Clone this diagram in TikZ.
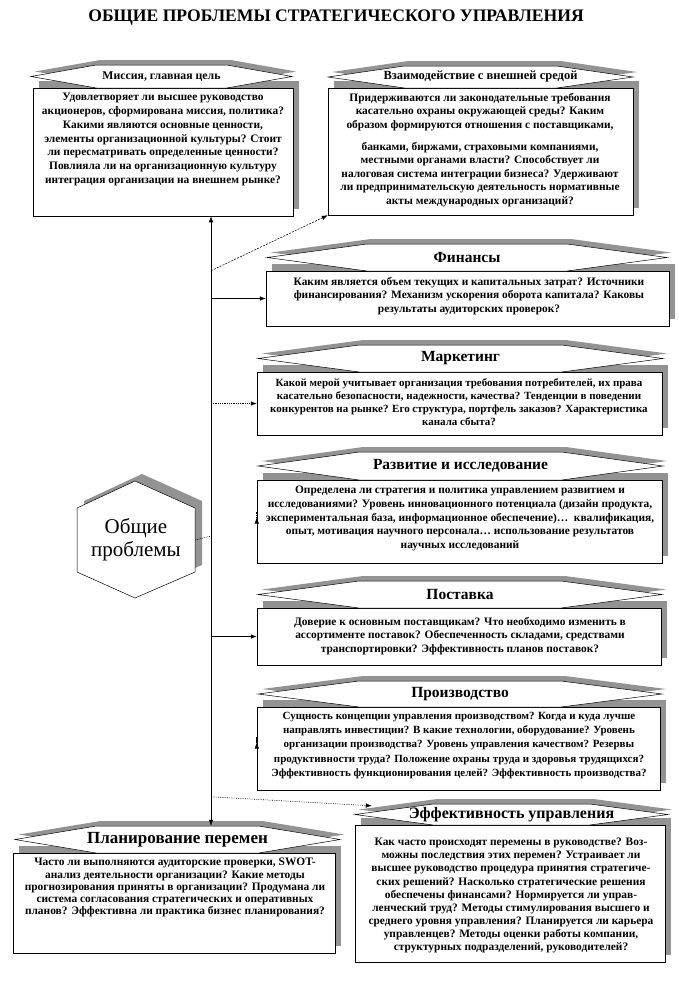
\documentclass[tikz,border=0pt]{standalone}
\usepackage{fontspec}
\setmainfont{Liberation Serif}
\usetikzlibrary{arrows.meta,calc}
\tikzset{
  sh/.style={fill=gray!85,draw=none},
  bline/.style={draw=black,line width=0.5pt,fill=white},
  qbox/.style={draw=black,line width=0.5pt,fill=white,rectangle,inner sep=0pt},
  body/.style={font=\fontsize{11.4}{#1}\selectfont\bfseries,align=center,inner sep=0pt,anchor=north},
  body/.default=13.4,
  bodyn/.style={font=\fontsize{11}{#1}\selectfont\bfseries,align=center,inner sep=0pt,anchor=north},
  tsz/.style={font=\fontsize{#1}{#1}\selectfont\bfseries},
  arr/.style={-{Latex[length=6pt,width=4.5pt]},line width=0.55pt},
  dots/.style={dash pattern=on 0.8pt off 1pt},
  dashs/.style={dash pattern=on 2pt off 1.2pt},
}
% banner: x0 x1 ytop ybot name style title
\newcommand\bnr[7]{%
  \pgfmathsetmacro\bs{0.25*(#2-#1)}%
  \pgfmathsetmacro\bm{0.5*(#3+#4)}%
  \fill[sh,shift={(4,-5)}] (#1,\bm) -- ({#1+\bs},#3) -- ({#2-\bs},#3) -- (#2,\bm) -- ({#2-\bs},#4) -- ({#1+\bs},#4) -- cycle;
  \filldraw[bline] (#1,\bm) -- ({#1+\bs},#3) -- ({#2-\bs},#3) -- (#2,\bm) -- ({#2-\bs},#4) -- ({#1+\bs},#4) -- cycle;
  \node[#6,inner sep=0pt,minimum width={#2-#1},minimum height={#4-#3}] (#5) at ({(#1+#2)/2},\bm) {#7};
}
% box: name x0 x1 ytop ybot
\newcommand\qb[5]{%
  \fill[sh] ({#2+6},{#4-7}) rectangle ({#3+6},{#5-7});
  \node[qbox,minimum width={#3-#2},minimum height={#5-#4}] (#1) at ({(#2+#3)/2},{(#4+#5)/2}) {};
}
\begin{document}
\begin{tikzpicture}[x=1pt,y=-1pt]
\useasboundingbox (0,0) rectangle (678,988);
\fill[white] (0,0) rectangle (678,988);

\node[font=\fontsize{17.6}{19}\selectfont\bfseries,inner sep=0pt] (title) at (336,18) {ОБЩИЕ ПРОБЛЕМЫ СТРАТЕГИЧЕСКОГО УПРАВЛЕНИЯ};

% 1 Mission
\qb{mbox}{33}{293}{88}{216}
\bnr{31}{292}{65}{88}{mban}{tsz=11.8}{Миссия, главная цель}
\node[body=13.8] (mtxt) at (163,93) {Удовлетворяет ли высшее руководство\\
акционеров, сформирована миссия, политика?\\
Какими являются основные ценности,\\
элементы организационной культуры? Стоит\\
ли пересматривать определенные ценности?\\
Повлияла ли на организационную культуру\\
интеграция организации на внешнем рынке?};

% 2 Interaction
\qb{ibox}{328}{633}{88}{215}
\bnr{328}{633}{66}{88}{iban}{tsz=12.5}{Взаимодействие с внешней средой}
\node[body=13.6] (itxt) at (480,93) {Придерживаются ли законодательные требования\\
касательно охраны окружающей среды? Каким\\
образом формируются отношения с поставщиками,\\[8pt]
банками, биржами, страховыми компаниями,\\
местными органами власти? Способствует ли\\
налоговая система интеграции бизнеса? Удерживают\\
ли предпринимательскую деятельность нормативные\\
акты международных организаций?};

% 3 Finance
\qb{fbox}{266}{669}{271}{326}
\bnr{267}{667}{244}{271}{fban}{tsz=15.5}{Финансы}
\node[body=13.5] (ftxt) at (469,277) {Каким является объем текущих и капитальных затрат? Источники\\
финансирования? Механизм ускорения оборота капитала? Каковы\\
результаты аудиторских проверок?};

% 4 Marketing
\qb{kbox}{257}{662}{372}{435}
\bnr{258}{663}{345}{372}{kban}{tsz=15.5}{Маркетинг}
\node[bodyn=13.3] (ktxt) at (459,378) {Какой мерой учитывает организация требования потребителей, их права\\
касательно безопасности, надежности, качества? Тенденции в поведении\\
конкурентов на рынке? Его структура, портфель заказов? Характеристика\\
канала сбыта?};

% 5 R&D
\qb{rbox}{257}{662}{480}{563}
\bnr{258}{663}{452}{480}{rban}{tsz=15.5}{Развитие и исследование}
\node[body=13.7] (rtxt) at (460,486) {Определена ли стратегия и политика управлением развитием и\\
исследованиями? Уровень инновационного потенциала (дизайн продукта,\\
экспериментальная база, информационное обеспечение)…\ \ квалификация,\\
опыт, мотивация научного персонала… использование результатов\\
научных исследований};

% 6 Supply
\qb{sbox}{257}{661}{608}{665}
\bnr{258}{662}{581}{608}{sban}{tsz=15.5}{Поставка}
\node[body=13.5] (stxt) at (460,617) {Доверие к основным поставщикам? Что необходимо изменить в\\
ассортименте поставок? Обеспеченность складами, средствами\\
транспортировки? Эффективность планов поставок?};

% 7 Production
\qb{pbox}{257}{660}{707}{790}
\bnr{258}{662}{681}{707}{pban}{tsz=15.5}{Производство}
\node[bodyn=14.2] (ptxt) at (459,712) {Сущность концепции управления производством? Когда и куда лучше\\
направлять инвестиции? В какие технологии, оборудование? Уровень\\
организации производства? Уровень управления качеством? Резервы\\
продуктивности труда? Положение охраны труда и здоровья трудящихся?\\
Эффективность функционирования целей? Эффективность производства?};

% 8 Effectiveness
\qb{ebox}{355}{665}{825}{962}
\bnr{355}{668}{804}{825}{eban}{tsz=16}{Эффективность управления}
\node[body=13.1] (etxt) at (511,838) {Как часто происходят перемены в руководстве? Воз-\\
можны последствия этих перемен? Устраивает ли\\
высшее руководство процедура принятия стратегиче-\\
ских решений? Насколько стратегические решения\\
обеспечены финансами? Нормируется ли управ-\\
ленческий труд? Методы стимулирования высшего и\\
среднего уровня управления? Планируется ли карьера\\
управленцев? Методы оценки работы компании,\\
структурных подразделений, руководителей?};

% 9 Planning
\qb{lbox}{13}{335}{853}{953}
\bnr{15}{340}{826}{853}{lban}{tsz=17}{Планирование перемен}
\node[body=12.3] (ltxt) at (175,858) {Часто ли выполняются аудиторские проверки, SWOT-\\
анализ деятельности организации? Какие методы\\
прогнозирования приняты в организации? Продумана ли\\
система согласования стратегических и оперативных\\
планов? Эффективна ли практика бизнес планирования?};

% hexagon
\fill[sh,shift={(7,-7)}] (135,481) -- (195,508) -- (195,572) -- (135,598) -- (77,572) -- (77,508) -- cycle;
\filldraw[bline] (135,481) -- (195,508) -- (195,572) -- (135,598) -- (77,572) -- (77,508) -- cycle;
\node[inner sep=0pt,minimum width=118,minimum height=117,align=center,font=\fontsize{21}{23}\selectfont] (hex) at (136,540) {Общие\\проблемы};

% connectors
\coordinate (hub) at (211,536);
\draw[arr] (hub) -- (mbox.south -| hub);
\draw[arr] (hub) -- (lban.north -| hub);
\draw[dots,line width=0.6pt] (hex.east) -- (hub);
\draw[arr] (fbox.west -| hub) -- (fbox.west);
\draw[arr,dashs] (fbox.north west -| hub) -- (ibox.south west);
\draw[arr,dots] (kbox.west -| hub) -- (kbox.west);
\draw[arr,dots] ($(rbox.west)+(0,-4)$ -| hub) -- ($(rbox.west)+(0,-4)$);
\draw[arr] (sbox.west -| hub) -- (sbox.west);
\draw[arr] ($(pbox.west)+(0,-6)$ -| hub) -- ($(pbox.west)+(0,-6)$);
\coordinate (effin) at ($(eban.north west)+(17,2)$);
\draw[arr,dots] ($(eban.north west -| hub)+(0,-7)$) -- (effin);
\end{tikzpicture}
\end{document}
